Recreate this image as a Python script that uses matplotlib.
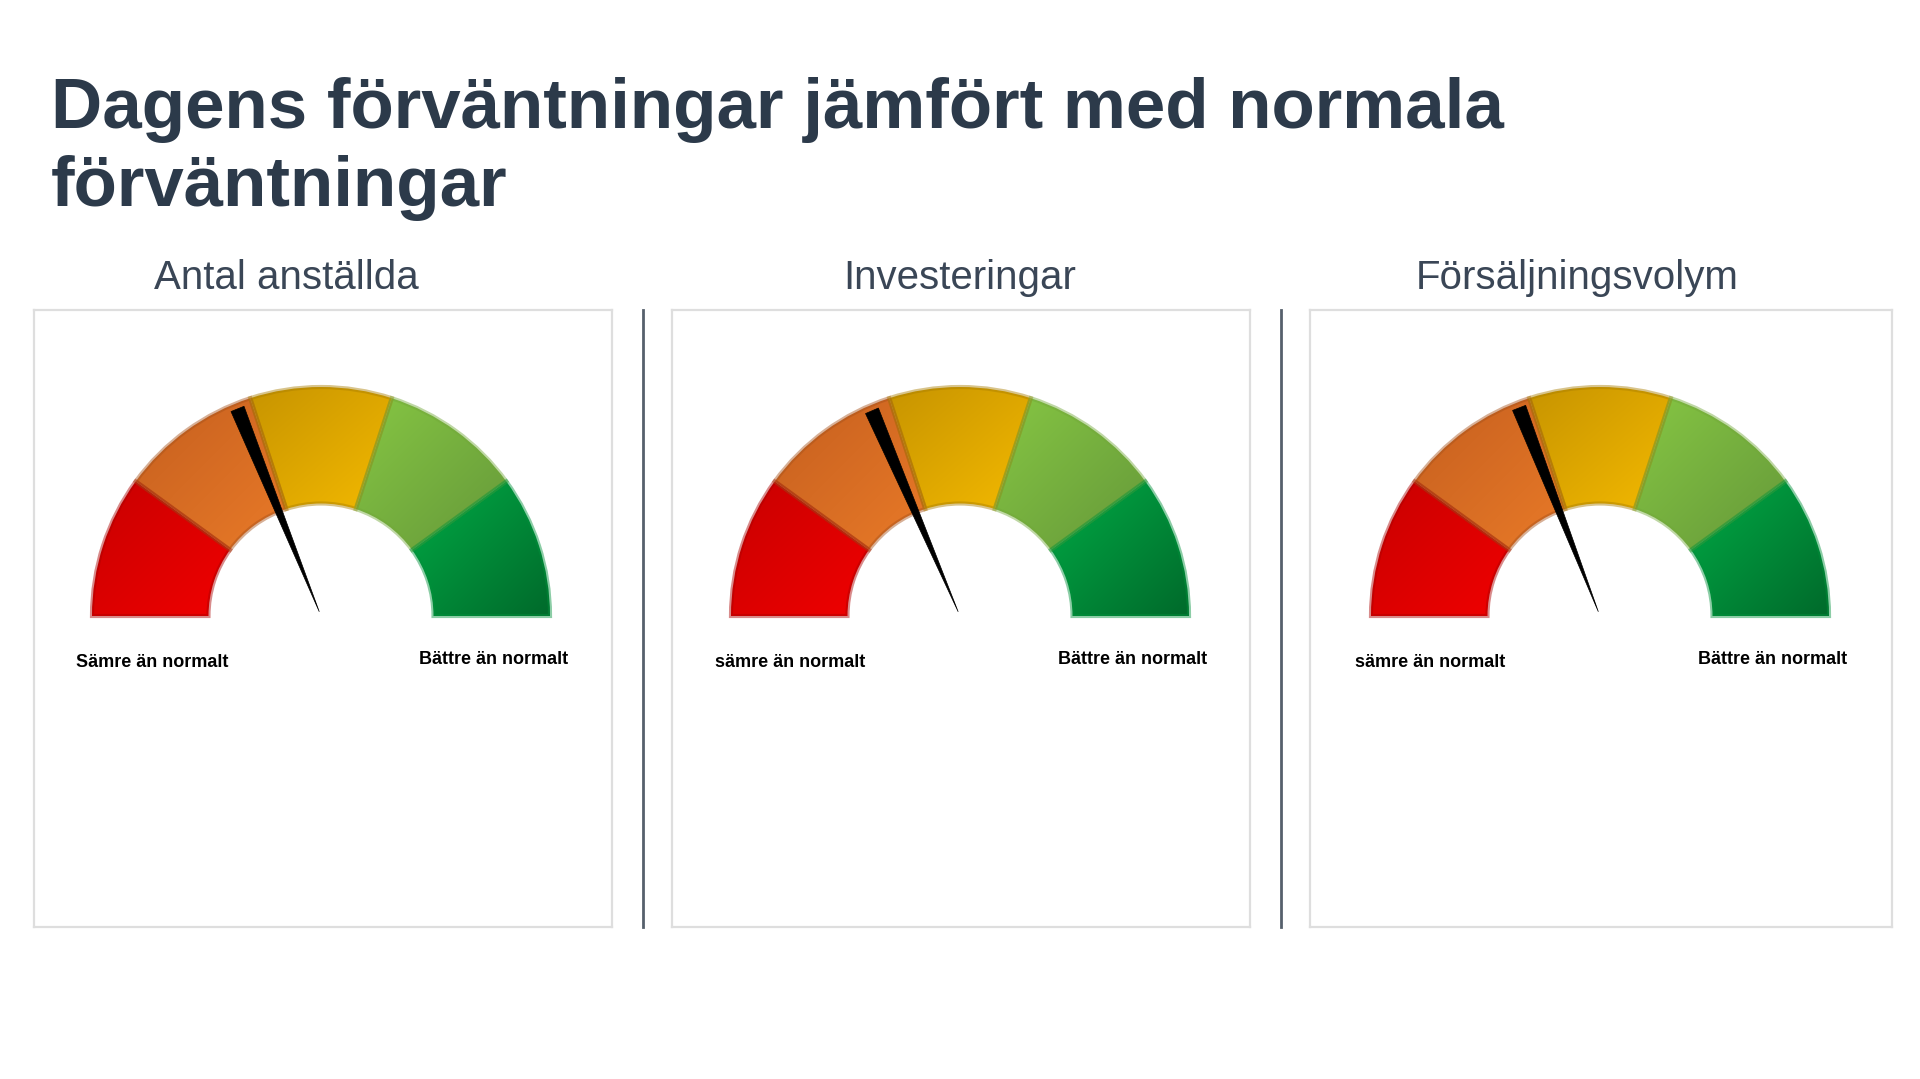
import numpy as np
import matplotlib
matplotlib.use("Agg")
import matplotlib.pyplot as plt
from matplotlib.patches import Wedge, Polygon
from matplotlib.colors import to_rgb

# ---------------------------------------------------------------------------
# Data
# ---------------------------------------------------------------------------
TITLE_LINES = ["Dagens förväntningar jämfört med normala", "förväntningar"]
PANEL_TITLES = ["Antal anställda", "Investeringar", "Försäljningsvolym"]
LEFT_LABELS = ["Sämre än normalt", "sämre än normalt", "sämre än normalt"]
RIGHT_LABELS = ["Bättre än normalt", "Bättre än normalt", "Bättre än normalt"]
NEEDLE_VALUES = [37.8, 37.1, 38.2]          # 0 = sämre, 100 = bättre

SEGMENT_EDGES = [0, 20, 40, 60, 80, 100]
# (top-left colour, bottom-right colour) per segment
SEGMENT_COLORS = [
    ("#c80000", "#f00000"),
    ("#c55f1f", "#e97a28"),
    ("#c79400", "#f3b900"),
    ("#86c643", "#65983a"),
    ("#00aa45", "#006a2b"),
]

# ---------------------------------------------------------------------------
# Layout (pixels in a 1920x1079 canvas)
# ---------------------------------------------------------------------------
W, H = 1920, 1079
BOXES = [(34, 310, 612, 927), (672, 310, 1250, 927), (1310, 310, 1892, 927)]
CENTERS_X = [321, 960, 1600]
CENTER_Y = 616
R_PX = 229
R_IN = 112.5 / R_PX
SEPARATORS_X = [643, 1281]
SUBTITLE_X = [286, 960, 1577]
TITLE_BASELINES = [128, 206]


def val2ang(v):
    return 180 - v * 180 / 100


def draw_segment(ax, v0, v1, c0, c1):
    a1, a0 = val2ang(v0), val2ang(v1)
    wedge = Wedge((0, 0), 1, a0, a1, width=1 - R_IN, facecolor="none",
                  edgecolor="none")
    ax.add_patch(wedge)
    th = np.radians(np.linspace(a0, a1, 50))
    xs = np.concatenate([np.cos(th), R_IN * np.cos(th)])
    ys = np.concatenate([np.sin(th), R_IN * np.sin(th)])
    xmin, xmax, ymin, ymax = xs.min(), xs.max(), ys.min(), ys.max()
    gx, gy = np.meshgrid(np.linspace(0, 1, 120), np.linspace(0, 1, 120))
    t = (gx + gy) / 2
    c0, c1 = np.array(to_rgb(c0)), np.array(to_rgb(c1))
    img = c0[None, None, :] * (1 - t[..., None]) + c1[None, None, :] * t[..., None]
    im = ax.imshow(img, extent=(xmin, xmax, ymin, ymax), origin="upper",
                   interpolation="bilinear", zorder=2)
    im.set_clip_path(wedge)
    # bevel rim
    rim = Wedge((0, 0), 1, a0, a1, width=1 - R_IN, facecolor="none",
                edgecolor=tuple(c0 * 0.85), linewidth=3, alpha=0.45, zorder=3)
    ax.add_patch(rim)


def draw_needle(ax, value):
    a = np.radians(val2ang(value))
    d = np.array([np.cos(a), np.sin(a)])
    n = np.array([-d[1], d[0]])
    hw = 7 / R_PX
    tip = d * 0.02
    end = d * 0.975
    pts = [tip, end + n * hw, end - n * hw]
    ax.add_patch(Polygon(pts, closed=True, facecolor="black",
                         edgecolor="black", linewidth=0.5, zorder=5))


fig = plt.figure(figsize=(W / 100, H / 100), dpi=100)
fig.patch.set_facecolor("white")

for line, base in zip(TITLE_LINES, TITLE_BASELINES):
    fig.text(51 / W, 1 - base / H, line, fontsize=51, fontweight="bold",
             family="Liberation Sans", color="#2c3a4a", ha="left",
             va="baseline")

for i in range(3):
    x0, y0, x1, y1 = BOXES[i]
    ax = fig.add_axes([x0 / W, 1 - y1 / H, (x1 - x0) / W, (y1 - y0) / H])
    cx = CENTERS_X[i]
    ax.set_xlim((x0 - cx) / R_PX, (x1 - cx) / R_PX)
    ax.set_ylim((CENTER_Y - y1) / R_PX, (CENTER_Y - y0) / R_PX)
    ax.set_xticks([])
    ax.set_yticks([])
    for sp in ax.spines.values():
        sp.set_color("#dedede")
        sp.set_linewidth(1.6)

    for k in range(len(SEGMENT_COLORS)):
        draw_segment(ax, SEGMENT_EDGES[k], SEGMENT_EDGES[k + 1], *SEGMENT_COLORS[k])
    draw_needle(ax, NEEDLE_VALUES[i])

    ax.text(-1.07, -0.205, LEFT_LABELS[i], fontsize=13, fontweight="bold",
            family="Liberation Sans", color="black", ha="left", va="center")
    ax.text(1.08, -0.19, RIGHT_LABELS[i], fontsize=13, fontweight="bold",
            family="Liberation Sans", color="black", ha="right", va="center")

    fig.text(SUBTITLE_X[i] / W, 1 - 289 / H, PANEL_TITLES[i], fontsize=29,
             family="Liberation Sans", color="#3a4656", ha="center",
             va="baseline")

for sx in SEPARATORS_X:
    fig.add_artist(plt.Line2D([sx / W, sx / W], [1 - 310 / H, 1 - 927 / H],
                              color="#56606c", linewidth=2))

fig.savefig("out.png", dpi=100)
